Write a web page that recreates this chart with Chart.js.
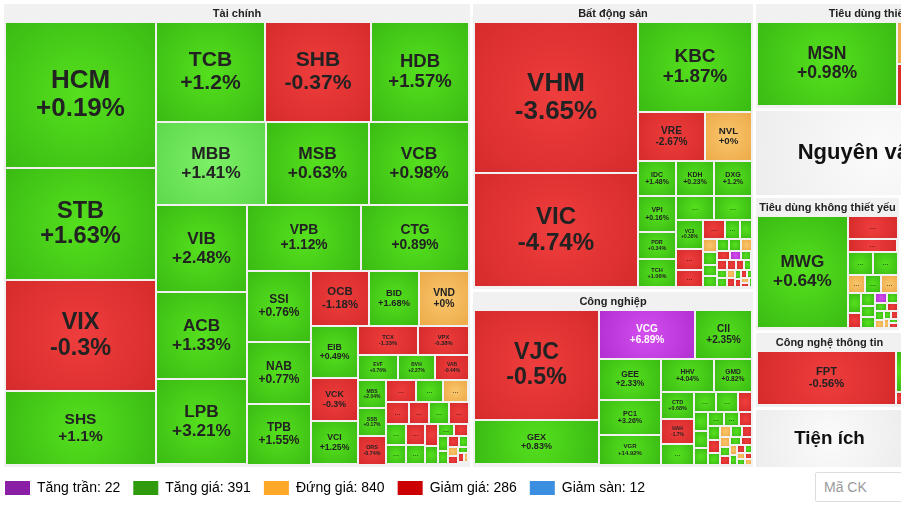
<!DOCTYPE html>
<html lang="vi">
<head>
    <meta charset="UTF-8">
    <title>Bản đồ nhiệt thị trường</title>
    <script src="https://cdn.jsdelivr.net/npm/chart.js"></script>
    <style>
        body { margin: 0; background: #fff; font-family: 'Liberation Sans', Arial, sans-serif; }
        .khung { position: relative; width: 901px; height: 507px; overflow: hidden; }
        #heatmap { position: absolute; left: -8px; top: 0; }
        #maCK {
            position: absolute; left: 815px; top: 472px; width: 180px; height: 30px;
            box-sizing: border-box; border: 1px solid #dedede; border-radius: 2px;
            padding-left: 8px; font: 14px 'Liberation Sans', Arial, sans-serif; color: #999; background: #fff;
        }
        #maCK::placeholder { color: #9a9a9a; }
    </style>
</head>
<body>
<div class="khung">
    <canvas id="heatmap" width="1020" height="505"></canvas>
    <input id="maCK" placeholder="Mã CK">
</div>
<script>
    // Ngành (cấp 1) và độ lớn của từng ngành
    const nganh = ['Tài chính', 'Bất động sản', 'Công nghiệp', 'Tiêu dùng thiết yếu', 'Nguyên vật liệu',
        'Tiêu dùng không thiết yếu', 'Năng lượng', 'Công nghệ thông tin', 'Tiện ích', 'Y tế', 'Dịch vụ viễn thông'];
    const nganhGiaTri = [218554, 81504, 50374, 26643, 21663, 19710, 13905, 11550, 9000, 7920, 5643];
    // cách gom các ngành thành cột / hàng
    const nhomNganh = [0, [1, 2], [3, 4, [5, 6], [[7, 8], [9, 10]]]];

    // Tài chính
    const taiChinhMa = ['HCM', 'STB', 'VIX', 'SHS', 'TCB', 'SHB', 'HDB', 'MBB', 'MSB', 'VCB', 'VIB', 'ACB', 'LPB', 'VPB', 'CTG',
        'SSI', 'NAB', 'TPB', 'OCB', 'BID', 'VND', 'EIB', 'VCK', 'VCI', 'TCX', 'VPX', 'EVF', 'BVH', 'VAB', 'MBS', 'SSB', 'ORS'];
    const taiChinhGT = [22192, 17176, 16872, 11248, 11009, 10706, 9797, 9130, 8549, 8217, 7950, 7900, 7850, 7638, 7169,
        4544, 3968, 3904, 3190, 2750, 2695, 2444, 2050, 2040, 1740, 1450, 1000, 925, 825, 812, 810, 800,
        667, 621, 575, 484, 440, 440, 418, 420, 400, 380, 360, 300, 250, 200, 180, 160, 140, 120, 100, 90, 80, 60, 50, 40, 30];
    const taiChinhTD = [0.19, 1.63, -0.3, 1.1, 1.2, -0.37, 1.57, 1.41, 0.63, 0.98, 2.48, 1.33, 3.21, 1.12, 0.89,
        0.76, 0.77, 1.55, -1.18, 1.68, 0, 0.49, -0.3, 1.25, -1.33, -0.38, 0.76, 2.27, -0.44, 2.04, 0.17, -0.74,
        -1, 1, 0, -1, -1, 1, -1, 1, 1, -1, 1, -1, 1, 1, -1, 1, 1, -1, 1, 0, -1, 1, -1, 0, 1];
    const taiChinhKhoi = 'c4 r3 r3 c3 r2 c3 r3 c3 r2 r3 c3 r3 r4';

    // Bất động sản
    const batDongSanMa = ['VHM', 'VIC', 'KBC', 'VRE', 'NVL', 'IDC', 'KDH', 'DXG', 'VPI', 'PDR', 'TCH', '', '', 'VC3'];
    const batDongSanGT = [24600, 18368, 10057, 3283, 2254, 1330, 1320, 1300, 1360, 1040, 1030, 912, 912, 756, 560, 448,
        392, 266, 204, 190, 168, 150, 148, 145, 140, 130, 120, 110, 100, 90, 85, 82, 80, 75, 70, 65, 60, 55, 50, 45, 40, 35, 30, 25];
    const batDongSanTD = [-3.65, -4.74, 1.87, -2.67, 0, 1.48, 0.23, 1.2, 0.16, 0.34, 1.06, 1, 1, 0.38, -1, -1,
        -1, 1, 1, 0, 1, 1, 1, 1, 1, 0, -1, 6.9, 1, -1, 1, 1, -1, -1, 1, 0, -1, 1, -1, -1, 1, 0, -1, 1];
    const batDongSanKhoi = 'c2 r1 r2 r3 c3 r2 c3';

    // Công nghiệp
    const congNghiepMa = ['VJC', 'GEX', 'VCG', 'CII', 'GEE', 'PC1', 'VGR', 'HHV', 'GMD', 'CTD', 'HAH'];
    const congNghiepGT = [14000, 5750, 4800, 2800, 2666, 2232, 1860, 1802, 1258, 924, 825, 693,
        464, 448, 290, 260, 250, 230, 220, 200, 180, 170, 150, 140, 130, 120, 110, 100, 95, 90, 85, 80, 75, 70, 60, 55, 50, 45, 40, 35];
    const congNghiepTD = [-0.5, 0.83, 6.89, 2.35, 2.33, 3.26, 14.92, 4.04, 0.82, 0.68, -1.7, 1,
        1, 1, -1, 1, 1, 1, 1, 1, -1, 1, -1, 1, 0, 1, -1, 0, 1, -1, 1, -1, 0, 1, -1, 1, 0, 1, -1, 0];
    const congNghiepKhoi = 'c2 r2 c3 r2 c3';

    // Tiêu dùng thiết yếu
    const tieuDungTYMa = ['MSN'];
    const tieuDungTYGT = [11985, 4470, 4370];
    const tieuDungTYTD = [0.98, 0, -1];

    // Tiêu dùng không thiết yếu
    const tieuDungKTYMa = ['MWG'];
    const tieuDungKTYGT = [10396, 1150, 680, 576, 560, 320, 300, 300, 280, 200, 180, 150, 150, 120, 110, 100, 90, 80, 70, 60, 50, 45, 40, 35];
    const tieuDungKTYTD = [0.64, -1, -1, 1, 1, 0, 1, 0, 1, -1, 1, 1, 1, 6.9, 1, 1, -1, 1, 0, 1, -1, 0, 1, -1];

    // Công nghệ thông tin
    const cnttMa = ['FPT'];
    const cnttGT = [7700, 250, 80];
    const cnttTD = [-0.56, 1, -1];

    const maDangChon = 'MBB';

    // Chú thích
    const chuThichTen = ['Tăng trần', 'Tăng giá', 'Đứng giá', 'Giảm giá', 'Giảm sàn'];
    const chuThichSo = [22, 391, 840, 286, 12];
    const chuThichMau = ['#8a1fa6', '#2f9a0c', '#ffa726', '#cc0000', '#3b8fe0'];

    const duLieuNganh = {
        0: { ma: taiChinhMa, gt: taiChinhGT, td: taiChinhTD, khoi: taiChinhKhoi },
        1: { ma: batDongSanMa, gt: batDongSanGT, td: batDongSanTD, khoi: batDongSanKhoi },
        2: { ma: congNghiepMa, gt: congNghiepGT, td: congNghiepTD, khoi: congNghiepKhoi },
        3: { ma: tieuDungTYMa, gt: tieuDungTYGT, td: tieuDungTYTD, khoi: 'c1 c2' },
        5: { ma: tieuDungKTYMa, gt: tieuDungKTYGT, td: tieuDungKTYTD, khoi: 'c1 r1 r1 r2' },
        7: { ma: cnttMa, gt: cnttGT, td: cnttTD, khoi: 'c1' }
    };

    const FONT = "'Liberation Sans', Arial, sans-serif";
    const tong = a => a.reduce((s, v) => s + v, 0);

    // chia ô: theo kế hoạch hàng/cột trước, phần còn lại kiểu squarify
    function xepO(values, rect, plan) {
        const out = [];
        const r = { x: rect.x, y: rect.y, w: rect.w, h: rect.h };
        let rest = tong(values), i = 0;
        const place = (n, ngang) => {
            const vs = values.slice(i, i + n), s = tong(vs);
            if (ngang) {
                const t = rest > 0 ? r.h * s / rest : r.h;
                let cx = r.x;
                vs.forEach((v, k) => { const w = r.w * v / s; out[i + k] = { x: cx, y: r.y, w: w, h: t }; cx += w; });
                r.y += t; r.h -= t;
            } else {
                const t = rest > 0 ? r.w * s / rest : r.w;
                let cy = r.y;
                vs.forEach((v, k) => { const h = r.h * v / s; out[i + k] = { x: r.x, y: cy, w: t, h: h }; cy += h; });
                r.x += t; r.w -= t;
            }
            rest -= s; i += n;
        };
        (plan ? plan.split(' ') : []).forEach(b => place(+b.slice(1), b[0] === 'r'));
        while (i < values.length) {
            const ngang = r.w < r.h;
            const L = ngang ? r.w : r.h;
            const k = (r.w * r.h) / rest;
            let n = 1, best = Infinity;
            for (let j = i; j < values.length; j++) {
                const vs = values.slice(i, j + 1);
                const t = tong(vs) * k / L;
                const aMax = Math.max(...vs) * k, aMin = Math.min(...vs) * k;
                const score = Math.max(aMax / (t * t), (t * t) / aMin);
                if (score <= best) { best = score; n = j - i + 1; } else break;
            }
            place(n, ngang);
        }
        return out;
    }

    function xepNhom(group, rect, ngang, out) {
        const val = g => Array.isArray(g) ? tong(g.map(val)) : nganhGiaTri[g];
        const total = val(group);
        let pos = ngang ? rect.x : rect.y;
        group.forEach(g => {
            const len = (ngang ? rect.w : rect.h) * val(g) / total;
            const sub = ngang ? { x: pos, y: rect.y, w: len, h: rect.h } : { x: rect.x, y: pos, w: rect.w, h: len };
            if (Array.isArray(g)) xepNhom(g, sub, !ngang, out); else out[g] = sub;
            pos += len;
        });
    }

    function mauO(td, ma) {
        if (ma && ma === maDangChon) return ['#7cf066', '#5ed94c'];
        if (Math.abs(td) >= 6.85 && Math.abs(td) <= 7) return td > 0 ? ['#d44ef0', '#b22fd0'] : ['#4a9ff2', '#2c7ed4'];
        if (td > 0) return ['#55e01e', '#3bbb13'];
        if (td < 0) return ['#ef3d3d', '#d62b2b'];
        return ['#f8c66c', '#eeaa48'];
    }

    const treemapPlugin = {
        id: 'treemap',
        afterDatasetsDraw(chart) {
            const { ctx, scales: { x, y } } = chart;
            const toPx = r => {
                const x0 = Math.round(x.getPixelForValue(r.x)), x1 = Math.round(x.getPixelForValue(r.x + r.w));
                const y0 = Math.round(y.getPixelForValue(r.y)), y1 = Math.round(y.getPixelForValue(r.y + r.h));
                return { x: x0, y: y0, w: x1 - x0, h: y1 - y0 };
            };
            const inset = (r, d) => ({ x: r.x + d, y: r.y + d, w: r.w - 2 * d, h: r.h - 2 * d });
            const khung = [];
            xepNhom(nhomNganh, { x: 10, y: 2, w: 1001, h: 466 }, true, khung);

            nganh.forEach((ten, s) => {
                const box = inset(khung[s], 1.5);
                const b = toPx(box);
                const dl = duLieuNganh[s];
                ctx.save();
                ctx.beginPath();
                ctx.rect(b.x, b.y, b.w, b.h);
                ctx.clip();
                ctx.textAlign = 'center';
                ctx.textBaseline = 'middle';
                if (!dl) {
                    const g = ctx.createRadialGradient(b.x + b.w / 2, b.y + b.h / 2, 0, b.x + b.w / 2, b.y + b.h / 2, Math.max(b.w, b.h) * 0.6);
                    g.addColorStop(0, '#fbfbfb');
                    g.addColorStop(1, '#ebebeb');
                    ctx.fillStyle = g;
                    ctx.fillRect(b.x, b.y, b.w, b.h);
                    ctx.fillStyle = '#111';
                    ctx.font = 'bold ' + Math.min(22, b.h * 0.33).toFixed(1) + 'px ' + FONT;
                    ctx.fillText(ten, b.x + b.w / 2, b.y + b.h / 2);
                    ctx.restore();
                    return;
                }
                ctx.fillStyle = '#f1f1f1';
                ctx.fillRect(b.x, b.y, b.w, b.h);
                ctx.fillStyle = '#222';
                ctx.font = 'bold 11px ' + FONT;
                ctx.fillText(ten, b.x + b.w / 2, b.y + 10);

                const vung = { x: box.x + 1, y: box.y + 18.5, w: box.w - 2, h: box.h - 20.5 };
                const o = xepO(dl.gt, vung, dl.khoi);
                o.forEach((r, i) => {
                    const c = toPx(inset(r, 1));
                    if (c.w <= 0 || c.h <= 0) return;
                    const ma = dl.ma[i] || '';
                    const td = dl.td[i];
                    const [m0, m1] = mauO(td, ma);
                    const cx = c.x + c.w / 2, cy = c.y + c.h / 2;
                    const g = ctx.createRadialGradient(cx, cy, 0, cx, cy, Math.hypot(c.w, c.h) / 2);
                    g.addColorStop(0, m0);
                    g.addColorStop(1, m1);
                    ctx.fillStyle = g;
                    ctx.fillRect(c.x, c.y, c.w, c.h);

                    const tdText = (td >= 0 ? '+' : '') + td + '%';
                    let fs = 0;
                    if (ma) {
                        ctx.font = 'bold 100px ' + FONT;
                        const em = Math.max(ctx.measureText(ma).width, ctx.measureText(tdText).width) / 100;
                        fs = Math.min(0.215 * Math.min(c.w, c.h), 26, 0.66 * c.w / em);
                    }
                    if (ma && fs >= 4.5) {
                        ctx.fillStyle = mauO(td, '')[0] === '#d44ef0' ? '#fff' : '#222';
                        ctx.font = 'bold ' + fs.toFixed(1) + 'px ' + FONT;
                        ctx.fillText(ma, cx, cy - fs * 0.54);
                        ctx.fillText(tdText, cx, cy + fs * 0.54);
                    } else if (c.w >= 13 && c.h >= 9) {
                        ctx.fillStyle = 'rgba(0,0,0,0.5)';
                        ctx.font = 'bold 7px ' + FONT;
                        ctx.fillText('...', cx, cy);
                    }
                });
                ctx.restore();
            });
        }
    };

    const ctx = document.getElementById('heatmap').getContext('2d');
    new Chart(ctx, {
        type: 'scatter',
        data: { datasets: [{ data: [] }] },
        options: {
            responsive: false,
            animation: false,
            events: [],
            layout: { padding: 0 },
            scales: {
                x: { type: 'linear', min: 0, max: 1020, display: false },
                y: { type: 'linear', min: 0, max: 468, reverse: true, display: false }
            },
            plugins: {
                tooltip: { enabled: false },
                legend: {
                    position: 'bottom',
                    align: 'start',
                    onClick: () => {},
                    labels: {
                        boxWidth: 25,
                        boxHeight: 14,
                        padding: 13,
                        color: '#333',
                        font: { size: 14, family: FONT },
                        generateLabels: () => chuThichTen.map((t, i) => ({
                            text: t + ': ' + chuThichSo[i],
                            fillStyle: chuThichMau[i],
                            strokeStyle: chuThichMau[i],
                            lineWidth: 0,
                            hidden: false,
                            index: i
                        }))
                    }
                }
            }
        },
        plugins: [treemapPlugin]
    });
</script>
</body>
</html>
